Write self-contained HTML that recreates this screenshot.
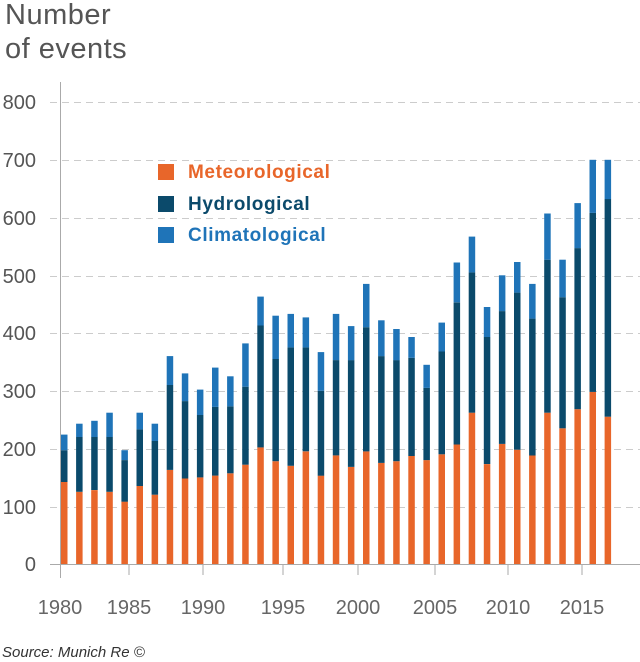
<!DOCTYPE html>
<html><head><meta charset="utf-8"><style>
html,body{margin:0;padding:0;background:#fff;width:640px;height:662px;overflow:hidden}
text{font-family:"Liberation Sans",sans-serif}
</style></head><body>
<svg id="c" width="640" height="662" xmlns="http://www.w3.org/2000/svg">
<text x="5" y="24" font-size="29" fill="#555" letter-spacing="0.5">Number</text>
<text x="5" y="58" font-size="29" fill="#555" letter-spacing="0.5">of events</text>
<g stroke="#ccc" stroke-width="1" stroke-dasharray="7,5">
<line x1="50" y1="102.5" x2="640" y2="102.5"/>
<line x1="50" y1="160.5" x2="640" y2="160.5"/>
<line x1="50" y1="218.5" x2="640" y2="218.5"/>
<line x1="50" y1="276.5" x2="640" y2="276.5"/>
<line x1="50" y1="333.5" x2="640" y2="333.5"/>
<line x1="50" y1="391.5" x2="640" y2="391.5"/>
<line x1="50" y1="449.5" x2="640" y2="449.5"/>
<line x1="50" y1="507.5" x2="640" y2="507.5"/>
</g>
<g font-size="20" fill="#555" text-anchor="end">
<text x="36" y="109">800</text><text x="36" y="167">700</text><text x="36" y="225">600</text>
<text x="36" y="283">500</text><text x="36" y="340">400</text><text x="36" y="398">300</text>
<text x="36" y="456">200</text><text x="36" y="514">100</text><text x="36" y="571">0</text>
</g>
<g id="bars"></g>
<line x1="60.5" y1="82" x2="60.5" y2="578" stroke="#aaa"/>
<line x1="50" y1="564.5" x2="640" y2="564.5" stroke="#aaa"/>
<g stroke="#aaa">
<line x1="129" y1="565" x2="129" y2="575"/><line x1="203" y1="565" x2="203" y2="575"/>
<line x1="283" y1="565" x2="283" y2="575"/><line x1="358" y1="565" x2="358" y2="575"/>
<line x1="435" y1="565" x2="435" y2="575"/><line x1="508" y1="565" x2="508" y2="575"/>
<line x1="582" y1="565" x2="582" y2="575"/>
</g>
<g font-size="20" fill="#666" text-anchor="middle">
<text x="60" y="614">1980</text><text x="129" y="614">1985</text><text x="203" y="614">1990</text>
<text x="283" y="614">1995</text><text x="358" y="614">2000</text><text x="435" y="614">2005</text>
<text x="508" y="614">2010</text><text x="582" y="614">2015</text>
</g>
<text x="2" y="657" font-size="15" font-style="italic" fill="#333">Source: Munich Re ©</text>
<rect x="158" y="164" width="16" height="16" fill="#e8662a"/>
<rect x="158" y="196" width="16" height="16" fill="#0b4a6b"/>
<rect x="158" y="227" width="16" height="16" fill="#1f74b8"/>
<g font-size="19" font-weight="bold" letter-spacing="0.6">
<text x="188" y="178" fill="#e8662a">Meteorological</text>
<text x="188" y="210" fill="#0b4a6b">Hydrological</text>
<text x="188" y="241" fill="#1f74b8">Climatological</text>
</g>
</svg>
<script>
var d=[[142,197,224],[125,220,243],[128,220,248],[125,220,262],[108,180,197],[135,233,262],[120,213,243],[163,310,360],[148,282,330],[150,258,302],[153,272,340],[157,273,325],[172,307,382],[202,413,463],[178,355,430],[170,375,433],[195,375,427],[153,300,367],[188,353,433],[168,353,412],[195,410,485],[175,360,422],[178,353,407],[187,357,393],[180,305,345],[190,368,418],[207,453,522],[262,505,567],[173,393,445],[208,438,500],[198,470,523],[188,425,485],[262,527,607],[235,462,527],[268,547,625],[298,608,700],[255,632,700]];
var g=document.getElementById('bars'),ns='http://www.w3.org/2000/svg';
function Y(v){return 564-v*0.5775;}
d.forEach(function(b,i){var x=61+i*15.1;
 var c=['#e8662a','#0b4a6b','#1f74b8'],prev=0;
 for(var k=0;k<3;k++){var r=document.createElementNS(ns,'rect');
  r.setAttribute('x',x.toFixed(1));r.setAttribute('width','6.5');
  r.setAttribute('y',Y(b[k]).toFixed(1));r.setAttribute('height',(Y(prev)-Y(b[k])).toFixed(1));
  r.setAttribute('fill',c[k]);g.appendChild(r);prev=b[k];}
});
</script>
</body></html>
